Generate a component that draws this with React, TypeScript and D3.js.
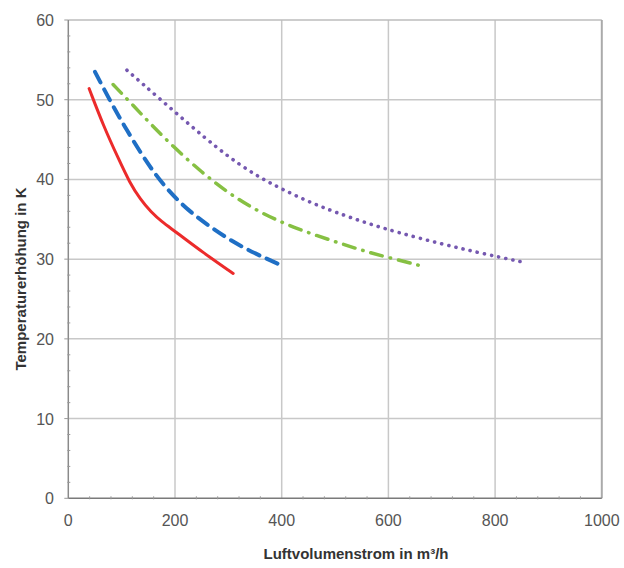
import React from "react";
import * as d3 from "d3";

const xTicks = [0, 200, 400, 600, 800, 1000];
const yTicks = [0, 10, 20, 30, 40, 50, 60];

const redFlow = [39, 66, 94, 115, 135, 155, 175, 200, 253, 309];
const redTemp = [51.4, 46.7, 42.6, 39.6, 37.5, 35.9, 34.7, 33.5, 30.8, 28.2];

const blueFlow = [50, 78, 105, 135, 160, 190, 225, 265, 305, 350, 397];
const blueTemp = [53.5, 49.9, 46.7, 43.4, 40.9, 38.4, 36.1, 34.1, 32.3, 30.7, 29.3];

const greenFlow = [84, 120, 155, 200, 250, 300, 350, 400, 450, 500, 550, 600, 665];
const greenTemp = [51.9, 49.4, 46.9, 43.9, 40.9, 38.3, 36.2, 34.6, 33.3, 32.2, 31.1, 30.2, 29.1];

const purpleFlow = [110, 170, 230, 280, 320, 360, 400, 450, 500, 560, 620, 700, 770, 847];
const purpleTemp = [53.7, 50.2, 46.7, 43.9, 41.9, 40.2, 38.8, 37.2, 35.9, 34.5, 33.3, 31.9, 30.8, 29.7];

const series = [
  { name: "rot", flow: redFlow, temp: redTemp, color: "#ec2b2b", width: 3, dash: "none" },
  { name: "blau", flow: blueFlow, temp: blueTemp, color: "#1f6fc5", width: 4, dash: "12 8" },
  { name: "grün", flow: greenFlow, temp: greenTemp, color: "#86c043", width: 3.5, dash: "12 8 0.5 8" },
  { name: "violett", flow: purpleFlow, temp: purpleTemp, color: "#7558b0", width: 3.6, dash: "0.1 7.2" },
];

export default function App() {
  const W = 624, H = 568;
  const left = 68.3, right = 601.8, top = 20, bottom = 498.3;
  const x = d3.scaleLinear().domain([0, 1000]).range([left, right]);
  const y = d3.scaleLinear().domain([0, 60]).range([bottom, top]);
  const line = d3
    .line<[number, number]>()
    .x((d) => x(d[0]))
    .y((d) => y(d[1]))
    .curve(d3.curveBasis);

  const xMinor = d3.range(0, 1001, 40).filter((v) => v % 200 !== 0);
  const yMinor = d3.range(0, 61, 2).filter((v) => v % 10 !== 0);

  return (
    <svg width={W} height={H} style={{ position: "absolute", left: 0, top: 0, background: "#fff" }}
      fontFamily="Liberation Sans, Arial, sans-serif">
      {/* grid */}
      {xTicks.slice(1, -1).map((t) => (
        <line key={"gx" + t} x1={x(t)} x2={x(t)} y1={top} y2={bottom} stroke="#c8c8c8" strokeWidth={1.5} />
      ))}
      {yTicks.slice(1, -1).map((t) => (
        <line key={"gy" + t} x1={left} x2={right} y1={y(t)} y2={y(t)} stroke="#c8c8c8" strokeWidth={1.5} />
      ))}
      {/* border */}
      <line x1={left} x2={right} y1={top} y2={top} stroke="#bdbdbd" strokeWidth={1.5} />
      <line x1={right} x2={right} y1={top} y2={bottom} stroke="#aaaaaa" strokeWidth={2} />
      {/* axes */}
      <line x1={left} x2={left} y1={top} y2={bottom} stroke="#8a8a8a" strokeWidth={1.5} />
      <line x1={left} x2={right} y1={bottom} y2={bottom} stroke="#7a7a7a" strokeWidth={1.5} />
      {xMinor.map((t) => (
        <line key={"mx" + t} x1={x(t)} x2={x(t)} y1={bottom - 2} y2={bottom + 1} stroke="#999" strokeWidth={1} />
      ))}
      {yMinor.map((t) => (
        <line key={"my" + t} x1={left - 1} x2={left + 2} y1={y(t)} y2={y(t)} stroke="#999" strokeWidth={1} />
      ))}
      {yTicks.map((t) => (
        <line key={"ty" + t} x1={left - 4} x2={left} y1={y(t)} y2={y(t)} stroke="#999" strokeWidth={1} />
      ))}
      {/* tick labels */}
      {xTicks.map((t) => (
        <text key={"lx" + t} x={x(t)} y={526} textAnchor="middle" fontSize={16} fill="#555">
          {t}
        </text>
      ))}
      {yTicks.map((t) => (
        <text key={"ly" + t} x={54} y={y(t) + 6} textAnchor="end" fontSize={16} fill="#555">
          {t}
        </text>
      ))}
      {/* series */}
      {series.map((s) => (
        <path
          key={s.name}
          d={line(s.flow.map((f, i) => [f, s.temp[i]] as [number, number])) || ""}
          fill="none"
          stroke={s.color}
          strokeWidth={s.width}
          strokeDasharray={s.dash}
          strokeLinecap="round"
          strokeLinejoin="round"
        />
      ))}
      {/* axis titles */}
      <text x={356} y={559} textAnchor="middle" fontSize={15} fontWeight="bold" fill="#333">
        Luftvolumenstrom in m³/h
      </text>
      <text transform="translate(26,279) rotate(-90)" textAnchor="middle" fontSize={15} fontWeight="bold" fill="#333">
        Temperaturerhöhung in K
      </text>
    </svg>
  );
}
